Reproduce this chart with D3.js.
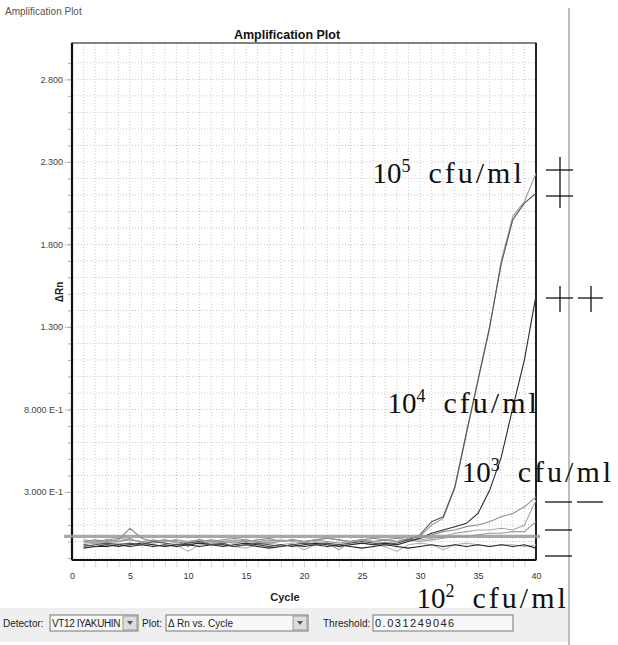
<!DOCTYPE html>
<html>
<head>
<meta charset="utf-8">
<script src="https://cdn.jsdelivr.net/npm/d3@7"></script>
<style>
  body { margin: 0; background: #fff; }
  text { font-family: "Liberation Sans", Arial, sans-serif; }
</style>
</head>
<body>
<div id="chart"></div>
<script>
// data
var cycles = [1,2,3,4,5,6,7,8,9,10,11,12,13,14,15,16,17,18,19,20,
              21,22,23,24,25,26,27,28,29,30,31,32,33,34,35,36,37,38,39,40];

var cfu5a = [-0.03,-0.02,-0.01,-0.02,-0.01,-0.02,0.00,-0.01,-0.02,-0.01,0.00,-0.02,-0.01,-0.03,-0.02,-0.01,-0.02,-0.03,-0.02,-0.01,
             -0.02,-0.01,-0.02,-0.01,0.00,-0.01,-0.02,-0.01,0.01,0.04,0.12,0.15,0.33,0.66,0.98,1.30,1.68,1.95,2.05,2.11];
var cfu5b = [0.00,-0.01,0.01,0.00,0.02,-0.01,0.00,0.01,-0.01,0.00,0.01,0.00,-0.01,0.00,0.01,0.00,-0.01,0.00,0.01,0.00,
             0.01,0.00,-0.01,0.00,0.01,0.00,0.01,0.00,0.02,0.03,0.10,0.14,0.32,0.65,0.97,1.29,1.70,1.97,2.06,2.23];
var cfu4  = [-0.02,-0.03,-0.02,-0.03,-0.02,-0.01,-0.02,-0.03,-0.02,-0.02,-0.01,-0.02,-0.03,-0.02,-0.01,-0.02,-0.03,-0.02,-0.03,-0.02,
             -0.01,-0.02,-0.03,-0.02,-0.01,-0.02,-0.01,-0.02,0.00,0.02,0.05,0.07,0.09,0.11,0.17,0.31,0.51,0.81,1.10,1.49];
var cfu3a = [0.00,0.01,0.00,0.01,0.08,0.02,0.00,0.01,0.00,-0.03,0.00,0.01,0.00,-0.01,0.00,0.01,0.02,0.00,0.01,0.00,
             0.01,0.02,0.01,0.00,0.01,0.02,0.01,0.02,0.01,0.02,0.04,0.06,0.07,0.09,0.10,0.12,0.15,0.17,0.21,0.27];
var cfu3b = [-0.01,0.00,-0.01,0.00,0.01,0.00,-0.01,0.00,0.01,-0.01,0.00,-0.01,0.00,0.01,0.00,-0.01,0.00,0.01,0.00,-0.01,
             0.00,-0.01,-0.05,0.00,0.01,0.00,-0.01,0.00,0.01,0.01,0.02,0.03,0.05,0.06,0.07,0.07,0.08,0.07,0.10,0.25];
var cfu2a = [0.01,0.00,0.01,0.02,0.01,0.00,0.01,0.00,0.01,0.00,0.01,0.00,0.01,0.02,0.01,0.00,0.01,0.00,0.01,0.00,
             0.01,0.02,0.01,0.00,0.01,0.00,0.01,0.00,0.01,0.00,0.01,0.02,0.03,0.03,0.04,0.05,0.05,0.06,0.06,0.12];
var cfu2b = [-0.02,-0.01,-0.02,-0.01,-0.02,-0.01,-0.02,-0.03,-0.02,-0.06,-0.02,-0.01,-0.02,-0.03,-0.04,-0.02,-0.01,-0.02,-0.01,-0.05,
             -0.02,-0.01,-0.03,-0.02,-0.01,-0.02,-0.03,-0.06,-0.02,-0.01,-0.02,-0.05,-0.02,-0.01,-0.02,-0.03,-0.02,-0.02,-0.03,-0.02];
var ntc   = [-0.04,-0.03,-0.03,-0.02,-0.03,-0.02,-0.03,-0.02,-0.03,-0.02,-0.03,-0.02,-0.02,-0.03,-0.02,-0.03,-0.04,-0.03,-0.02,-0.03,
             -0.02,-0.03,-0.02,-0.03,-0.04,-0.03,-0.02,-0.03,-0.04,-0.03,-0.02,-0.03,-0.02,-0.03,-0.02,-0.03,-0.02,-0.03,-0.02,-0.04];

var series = [
  {name: "1e2b", values: cfu2b, color: "#b4b4b4"},
  {name: "1e2a", values: cfu2a, color: "#9a9a9a"},
  {name: "1e3b", values: cfu3b, color: "#a6a6a6"},
  {name: "1e3a", values: cfu3a, color: "#8c8c8c"},
  {name: "ntc",  values: ntc,   color: "#222"},
  {name: "1e4",  values: cfu4,  color: "#2a2a2a"},
  {name: "1e5b", values: cfu5b, color: "#9a9a9a"},
  {name: "1e5a", values: cfu5a, color: "#555"}
];

var yTickValues = [0.3, 0.8, 1.3, 1.8, 2.3, 2.8];
var yTickLabels = ["3.000 E-1", "8.000 E-1", "1.300", "1.800", "2.300", "2.800"];
var xTickValues = [0, 5, 10, 15, 20, 25, 30, 35, 40];
var threshold = 0.031249046;

var labels = [
  {base: "10", exp: "5", cycle: 25.9, value: 2.17},
  {base: "10", exp: "4", cycle: 27.2, value: 0.78},
  {base: "10", exp: "3", cycle: 33.6, value: 0.36},
  {base: "10", exp: "2", cycle: 29.7, value: -0.40}
];

// setup
var width = 618,
    height = 645;

var x = d3.scaleLinear().domain([0, 40]).range([72, 536]);
var y = d3.scaleLinear().domain([-0.112, 3.02]).range([560, 43]);

var svg = d3.select("#chart").append("svg")
    .attr("width", width)
    .attr("height", height);

// header strip and window edge
svg.append("text")
    .attr("x", 5).attr("y", 15)
    .style("font-size", "10px")
    .style("fill", "#555")
    .text("Amplification Plot");

svg.append("line")
    .attr("x1", 569).attr("x2", 569)
    .attr("y1", 8).attr("y2", height)
    .attr("stroke", "#aaa")
    .attr("stroke-width", 1.5);

// bottom control bar (drawn early so the big labels sit on top of it)
var bar = svg.append("g");
bar.append("rect")
    .attr("x", 0).attr("y", 608).attr("width", 568).attr("height", 34)
    .attr("fill", "#efefef");

function field(x0, w, txt, arrow, size, spacing) {
    bar.append("rect").attr("x", x0).attr("y", 615).attr("width", w).attr("height", 16)
        .attr("fill", "#f8f8f8").attr("stroke", "#777").attr("stroke-width", 1);
    bar.append("text").attr("x", x0 + 2).attr("y", 627)
        .style("font-size", size || "10px").style("fill", "#222")
        .style("letter-spacing", spacing || "0px")
        .text(txt);
    if (arrow) {
        bar.append("rect").attr("x", x0 + w - 15).attr("y", 616).attr("width", 14).attr("height", 14)
            .attr("fill", "#ddd").attr("stroke", "#999");
        bar.append("path")
            .attr("d", "M" + (x0 + w - 11) + ",621 L" + (x0 + w - 5) + ",621 L" + (x0 + w - 8) + ",625 Z")
            .attr("fill", "#555");
    }
}
function caption(x0, txt) {
    bar.append("text").attr("x", x0).attr("y", 627)
        .style("font-size", "10px").style("fill", "#222").text(txt);
}
caption(3, "Detector:");
field(50, 88, "VT12 IYAKUHIN", true, "10px", "-0.4px");
caption(142, "Plot:");
field(166, 142, "\u0394 Rn vs. Cycle", true);
caption(323, "Threshold:");
field(373, 140, "0.031249046", false, "11px", "1.5px");

// grid
var grid = svg.append("g");
grid.selectAll(".vgrid").data(cycles.slice(0, 39))
    .enter().append("line")
    .attr("x1", function (d) { return x(d); })
    .attr("x2", function (d) { return x(d); })
    .attr("y1", y.range()[1]).attr("y2", y.range()[0])
    .attr("stroke", "#c8c8c8")
    .attr("stroke-dasharray", "1,2");

grid.selectAll(".hgrid").data(d3.range(-0.1, 3.0, 0.1))
    .enter().append("line")
    .attr("x1", x(0)).attr("x2", x(40))
    .attr("y1", function (d) { return y(d); })
    .attr("y2", function (d) { return y(d); })
    .attr("stroke", "#c8c8c8")
    .attr("stroke-dasharray", "1,2");

// axes
var yAxis = svg.append("g")
    .attr("transform", "translate(" + x(0) + ",0)")
    .call(d3.axisLeft(y).tickValues(yTickValues)
        .tickFormat(function (d, i) { return yTickLabels[i]; })
        .tickSize(7).tickPadding(2));
yAxis.select(".domain").remove();
yAxis.selectAll(".tick line").attr("stroke", "#999").attr("stroke-dasharray", "1,1");
yAxis.selectAll(".tick text")
    .style("font-size", "9px")
    .style("fill", "#444")
    .style("font-family", "'Liberation Sans', Arial, sans-serif");

svg.append("g")
    .attr("transform", "translate(" + x(0) + ",0)")
    .call(d3.axisLeft(y).tickValues(d3.range(-0.1, 3.0, 0.1)).tickSize(4).tickFormat(""))
    .call(function (g) { g.select(".domain").remove(); })
    .selectAll("line").attr("stroke", "#aaa");

var xAxis = svg.append("g")
    .attr("transform", "translate(0," + y.range()[0] + ")")
    .call(d3.axisBottom(x).tickValues(xTickValues).tickSize(0).tickPadding(13));
xAxis.select(".domain").remove();
xAxis.selectAll(".tick text")
    .style("font-size", "9px")
    .style("fill", "#333")
    .style("font-family", "'Liberation Sans', Arial, sans-serif");

svg.append("g")
    .attr("transform", "translate(0," + y.range()[0] + ")")
    .call(d3.axisBottom(x).tickValues(cycles.slice(0, 39)).tickSize(7).tickFormat(""))
    .call(function (g) { g.select(".domain").remove(); })
    .selectAll("line").attr("stroke", "#aaa").attr("stroke-dasharray", "1,1");

// frame
svg.append("rect")
    .attr("x", x(0)).attr("y", y.range()[1])
    .attr("width", x(40) - x(0))
    .attr("height", y.range()[0] - y.range()[1])
    .attr("fill", "none")
    .attr("stroke", "#333")
    .attr("stroke-width", 1.2);
svg.append("line")
    .attr("x1", x(0)).attr("x2", x(0))
    .attr("y1", y.range()[1]).attr("y2", y.range()[0])
    .attr("stroke", "#111").attr("stroke-width", 2.2);
svg.append("line")
    .attr("x1", x(0)).attr("x2", x(40))
    .attr("y1", y.range()[0]).attr("y2", y.range()[0])
    .attr("stroke", "#111").attr("stroke-width", 2.2);
svg.append("line")
    .attr("x1", x(40)).attr("x2", x(40))
    .attr("y1", y.range()[1]).attr("y2", y.range()[0])
    .attr("stroke", "#222").attr("stroke-width", 2);

// titles
svg.append("text")
    .attr("x", 287).attr("y", 39)
    .attr("text-anchor", "middle")
    .style("font-size", "12.5px")
    .style("font-weight", "bold")
    .style("fill", "#111")
    .text("Amplification Plot");

svg.append("text")
    .attr("x", 285).attr("y", 601)
    .attr("text-anchor", "middle")
    .style("font-size", "11px")
    .style("font-weight", "bold")
    .style("fill", "#222")
    .text("Cycle");

svg.append("text")
    .attr("transform", "translate(63,292) rotate(-90)")
    .attr("text-anchor", "middle")
    .style("font-size", "10px")
    .style("font-weight", "bold")
    .style("fill", "#222")
    .text("\u0394Rn");

// curves
var line = d3.line()
    .x(function (d, i) { return x(cycles[i]); })
    .y(function (d) { return y(d); });

svg.append("g").selectAll("path").data(series)
    .enter().append("path")
    .attr("d", function (d) { return line(d.values); })
    .attr("fill", "none")
    .attr("stroke", function (d) { return d.color; })
    .attr("stroke-width", 1.1);

// threshold
svg.append("line")
    .attr("x1", x(0) - 8).attr("x2", x(40) + 4)
    .attr("y1", y(threshold)).attr("y2", y(threshold))
    .attr("stroke", "#999")
    .attr("stroke-width", 3.2)
    .attr("opacity", 0.85);

// concentration labels
var lab = svg.append("g").selectAll("text").data(labels)
    .enter().append("text")
    .attr("x", function (d) { return x(d.cycle); })
    .attr("y", function (d) { return y(d.value); })
    .style("font-family", "'Liberation Serif', 'DejaVu Serif', serif")
    .style("font-size", "29px")
    .style("fill", "#111");
lab.append("tspan").text(function (d) { return d.base; });
lab.append("tspan")
    .attr("dy", -11)
    .style("font-size", "18px")
    .text(function (d) { return d.exp; });
lab.append("tspan")
    .attr("dy", 11)
    .attr("dx", 18)
    .style("font-size", "30px")
    .style("letter-spacing", "3px")
    .text("cfu/ml");

// hand marks on the right
var marks = svg.append("g").attr("stroke", "#111").attr("stroke-width", 1.3);
[[546, 573, 170], [546, 573, 196], [546, 573, 298], [578, 603, 298],
 [545, 572, 502], [577, 603, 502], [545, 572, 530], [545, 572, 556]].forEach(function (m) {
    marks.append("line").attr("x1", m[0]).attr("x2", m[1]).attr("y1", m[2]).attr("y2", m[2]);
});
[[560, 157, 208], [560, 286, 312], [591, 286, 312]].forEach(function (m) {
    marks.append("line").attr("x1", m[0]).attr("x2", m[0]).attr("y1", m[1]).attr("y2", m[2]);
});
</script>
</body>
</html>
